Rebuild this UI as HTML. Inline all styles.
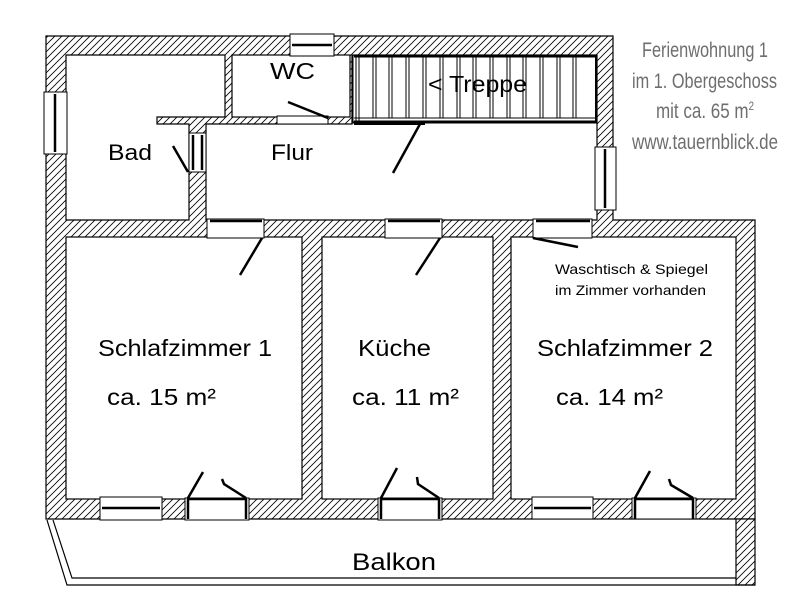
<!DOCTYPE html>
<html><head><meta charset="utf-8"><style>
html,body{margin:0;padding:0;background:#fff}
svg{display:block}
text{font-family:"Liberation Sans",sans-serif;fill:#000}
</style></head><body>
<svg width="803" height="602" viewBox="0 0 803 602" xmlns="http://www.w3.org/2000/svg">
<defs>
<pattern id="h" patternUnits="userSpaceOnUse" width="7" height="7">
<rect width="7" height="7" fill="#fff"/>
<path d="M-1,8 L8,-1 M-1,1 L1,-1 M6,8 L8,6" stroke="#000" stroke-width="0.8"/>
</pattern>
</defs>
<rect width="803" height="602" fill="#fff"/>
<polygon points="46,36 613,36 613,220 755,220 755,519 46,519" fill="url(#h)" stroke="#000" stroke-width="1.2"/>
<rect x="736" y="519" width="19" height="66" fill="url(#h)" stroke="#000" stroke-width="1.2"/>
<g fill="#fff" stroke="#000" stroke-width="1.2">
<polygon points="66,55 225,55 225,117 157,117 157,124 189,124 189,220 66,220"/>
<rect x="232" y="55" width="118" height="62"/>
<polygon points="206,124 352,124 352,122 597,122 597,220 206,220"/>
<rect x="352" y="55" width="245" height="67"/>
<rect x="66" y="237" width="236" height="262"/>
<rect x="322" y="237" width="171" height="262"/>
<rect x="511" y="237" width="225" height="262"/>
</g>
<g fill="none" stroke="#000" stroke-width="1.2">
<polyline points="47,520 67,585 755,585"/>
<polyline points="53,520 72,578 736,578"/>
</g>
<g stroke="#000" fill="none">
<rect x="353" y="55" width="243" height="68" stroke-width="1"/>
<line x1="354" y1="56" x2="596" y2="56" stroke-width="3"/>
<line x1="596" y1="56" x2="596" y2="122" stroke-width="2"/>
<line x1="354" y1="118" x2="596" y2="118" stroke-width="1"/>
<line x1="354" y1="121" x2="596" y2="121" stroke-width="1"/>
<line x1="354" y1="124" x2="425" y2="124" stroke-width="2"/>
<line x1="356" y1="56" x2="356" y2="122" stroke-width="1"/>
<line x1="359" y1="56" x2="359" y2="122" stroke-width="1"/>
<path stroke-width="1" d="M373,56V118M376,56V118M389,56V118M392,56V118M406,56V118M409,56V118M423,56V118M426,56V118M440,56V118M443,56V118M457,56V118M460,56V118M473,56V118M476,56V118M490,56V118M493,56V118M507,56V118M510,56V118M523,56V118M526,56V118M540,56V118M543,56V118M557,56V118M560,56V118M573,56V118M576,56V118"/>
</g>
<g fill="#fff" stroke="#000" stroke-width="1">
<rect x="290" y="34" width="44" height="22"/>
<rect x="44" y="92" width="23" height="62"/>
<rect x="595" y="147" width="21" height="63"/>
<rect x="189" y="133" width="17" height="39"/>
<rect x="277" y="116" width="51" height="8"/>
<rect x="207" y="219" width="57" height="19"/>
<rect x="385" y="219" width="57" height="19"/>
<rect x="533" y="219" width="59" height="19"/>
<rect x="100" y="497" width="62" height="23"/>
<rect x="185" y="498" width="64" height="22"/>
<rect x="378" y="498" width="64" height="22"/>
<rect x="532" y="497" width="61" height="22"/>
<rect x="632" y="498" width="64" height="21"/>
</g>
<g stroke="#000" stroke-width="2.5" fill="none">
<line x1="292" y1="45" x2="332" y2="45"/>
<line x1="55" y1="94" x2="55" y2="152"/>
<line x1="605" y1="149" x2="605" y2="208"/>
<line x1="193" y1="135" x2="193" y2="170"/>
<line x1="202" y1="135" x2="202" y2="170"/>
<line x1="210" y1="221" x2="262" y2="221"/>
<line x1="388" y1="221" x2="440" y2="221"/>
<line x1="536" y1="221" x2="590" y2="221"/>
<line x1="102" y1="508" x2="160" y2="508"/>
<line x1="534" y1="508" x2="591" y2="508"/>
<line x1="187" y1="499" x2="247" y2="499"/>
<line x1="380" y1="499" x2="440" y2="499"/>
<line x1="634" y1="499" x2="694" y2="499"/>
<line x1="188" y1="499" x2="188" y2="519"/>
<line x1="246" y1="499" x2="246" y2="519"/>
<line x1="381" y1="499" x2="381" y2="519"/>
<line x1="439" y1="499" x2="439" y2="519"/>
<line x1="635" y1="499" x2="635" y2="519"/>
<line x1="693" y1="499" x2="693" y2="519"/>
</g>
<g stroke="#000" stroke-width="2.5" fill="none">
<line x1="188" y1="172" x2="173" y2="146"/>
<line x1="328" y1="118" x2="288" y2="102"/>
<line x1="420" y1="124" x2="393" y2="173"/>
<line x1="262" y1="238" x2="240" y2="275"/>
<line x1="440" y1="238" x2="416" y2="275"/>
<line x1="533" y1="238" x2="578" y2="247"/>
<line x1="188" y1="498" x2="203" y2="472"/>
<polyline points="246,498 224,484 222,479"/>
<line x1="381" y1="498" x2="397" y2="468"/>
<polyline points="439,498 418,484 417,477"/>
<line x1="635" y1="498" x2="650" y2="471"/>
<polyline points="693,498 671,485 669,479"/>
</g>
<g lengthAdjust="spacingAndGlyphs">
<text x="270" y="79" font-size="23" textLength="45" lengthAdjust="spacingAndGlyphs">WC</text>
<text x="428" y="92" font-size="23" textLength="99" lengthAdjust="spacingAndGlyphs">&lt; Treppe</text>
<text x="108" y="160" font-size="22" textLength="44" lengthAdjust="spacingAndGlyphs">Bad</text>
<text x="271" y="160" font-size="22" textLength="42" lengthAdjust="spacingAndGlyphs">Flur</text>
<text x="98" y="356" font-size="23" textLength="174" lengthAdjust="spacingAndGlyphs">Schlafzimmer 1</text>
<text x="107" y="405" font-size="23" textLength="109" lengthAdjust="spacingAndGlyphs">ca. 15 m²</text>
<text x="358" y="356" font-size="23" textLength="73" lengthAdjust="spacingAndGlyphs">Küche</text>
<text x="352" y="405" font-size="23" textLength="107" lengthAdjust="spacingAndGlyphs">ca. 11 m²</text>
<text x="537" y="356" font-size="23" textLength="176" lengthAdjust="spacingAndGlyphs">Schlafzimmer 2</text>
<text x="556" y="405" font-size="23" textLength="107" lengthAdjust="spacingAndGlyphs">ca. 14 m²</text>
<text x="555" y="274" font-size="14" textLength="153" lengthAdjust="spacingAndGlyphs">Waschtisch &amp; Spiegel</text>
<text x="555" y="295" font-size="14" textLength="151" lengthAdjust="spacingAndGlyphs">im Zimmer vorhanden</text>
<text x="352" y="570" font-size="24" textLength="84" lengthAdjust="spacingAndGlyphs">Balkon</text>
</g>
<g font-size="21" style="fill:#6e6e6e">
<text x="642" y="57" textLength="126" lengthAdjust="spacingAndGlyphs" style="fill:#6e6e6e">Ferienwohnung 1</text>
<text x="632" y="88" textLength="145" lengthAdjust="spacingAndGlyphs" style="fill:#6e6e6e">im 1. Obergeschoss</text>
<text x="656" y="118" textLength="98" lengthAdjust="spacingAndGlyphs" style="fill:#6e6e6e">mit ca. 65 m<tspan font-size="12" dy="-8">2</tspan></text>
<text x="632" y="149" textLength="146" lengthAdjust="spacingAndGlyphs" style="fill:#6e6e6e">www.tauernblick.de</text>
</g>
</svg>
</body></html>
